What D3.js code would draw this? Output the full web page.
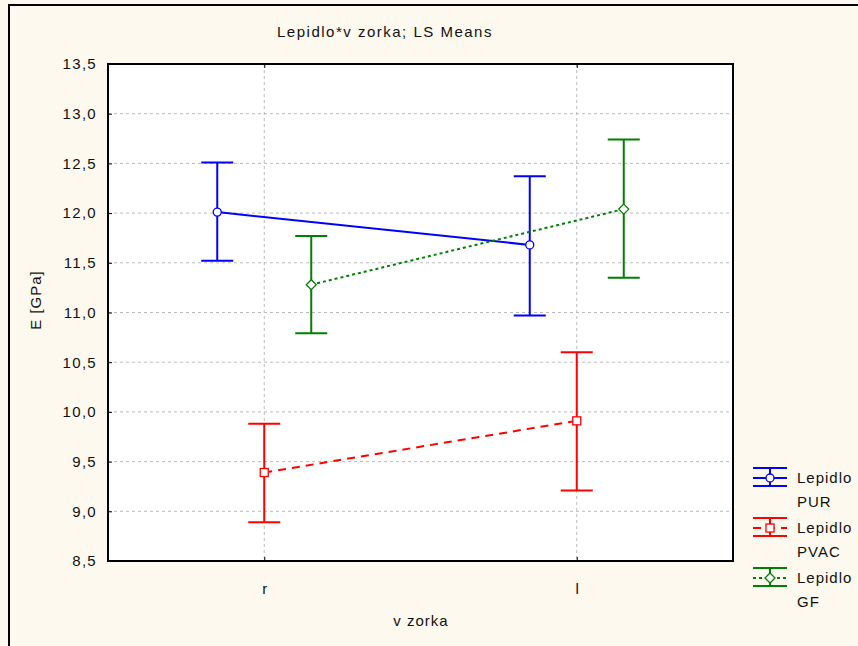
<!DOCTYPE html>
<html>
<head>
<meta charset="utf-8">
<script src="https://cdn.jsdelivr.net/npm/d3@7"></script>
<style>
  body { margin: 0; background: #fdf9ee; }
  text { font-family: "Liberation Sans", Arial, sans-serif; fill: #111; }
</style>
</head>
<body>
<svg id="chart" width="858" height="646"></svg>
<script>
// categories and series
const categories = ['r', 'l'];
const yTicks = [8.5, 9.0, 9.5, 10.0, 10.5, 11.0, 11.5, 12.0, 12.5, 13.0, 13.5];

const seriesNames = ['PUR', 'PVAC', 'GF'];
const seriesColors = ['#0000ff', '#ff0000', '#008000'];
const seriesMean = [[12.01, 11.68], [9.39, 9.91], [11.28, 12.04]];
const seriesLow = [[11.52, 10.97], [8.89, 9.21], [10.79, 11.35]];
const seriesHigh = [[12.51, 12.37], [9.88, 10.60], [11.77, 12.74]];

const margin = { top: 64, left: 108, right: 125, bottom: 85 };
const W = 858, H = 646;
const svg = d3.select('#chart');

// outer frame
svg.append('rect')
    .attr('x', 9).attr('y', 5)
    .attr('width', 900).attr('height', 700)
    .attr('fill', '#fdf9ee')
    .attr('stroke', '#000').attr('stroke-width', 2);

const plotW = W - margin.left - margin.right;
const plotH = H - margin.top - margin.bottom;

const x = d3.scalePoint().domain(categories).range([0, plotW]).padding(0.5);
const offset = d3.scalePoint().domain(seriesNames).range([-47, 47]);
const y = d3.scaleLinear().domain([8.5, 13.5]).range([plotH, 0]);

const g = svg.append('g').attr('transform', `translate(${margin.left},${margin.top})`);

g.append('rect').attr('width', plotW).attr('height', plotH).attr('fill', '#fff');

// grid
g.selectAll('.hgrid').data(yTicks.slice(1, -1)).enter().append('line')
    .attr('x1', 0).attr('x2', plotW)
    .attr('y1', d => y(d)).attr('y2', d => y(d))
    .attr('stroke', '#bbb').attr('stroke-dasharray', '3,3');
g.selectAll('.vgrid').data(categories).enter().append('line')
    .attr('x1', d => x(d)).attr('x2', d => x(d))
    .attr('y1', 0).attr('y2', plotH)
    .attr('stroke', '#bbb').attr('stroke-dasharray', '3,3');

// axes
const yAxis = g.append('g')
    .call(d3.axisLeft(y).tickValues(yTicks).tickSize(-4).tickPadding(11)
        .tickFormat(d => d3.format('.1f')(d).replace('.', ',')));
yAxis.select('.domain').remove();
yAxis.selectAll('text').style('font-size', '15px').style('letter-spacing', '1.3px').attr('fill', '#111');

const xAxis = g.append('g').attr('transform', `translate(0,${plotH})`)
    .call(d3.axisBottom(x).tickSize(-4).tickPadding(22));
xAxis.select('.domain').remove();
xAxis.selectAll('text').style('font-size', '15px').attr('fill', '#111');

const xTop = g.append('g').call(d3.axisTop(x).tickSize(-4).tickFormat(''));
xTop.select('.domain').remove();

g.append('rect').attr('width', plotW).attr('height', plotH)
    .attr('fill', 'none').attr('stroke', '#000').attr('stroke-width', 2);

const dashes = [null, '8,6', '3,3'];
const capHalf = 16;

seriesNames.forEach((name, si) => {
    const color = seriesColors[si];
    const pts = categories.map((c, ci) => ({
        cx: x(c) + offset(name),
        mean: seriesMean[si][ci],
        lo: seriesLow[si][ci],
        hi: seriesHigh[si][ci]
    }));

    // whiskers
    pts.forEach(p => {
        g.append('line').attr('x1', p.cx).attr('x2', p.cx)
            .attr('y1', y(p.lo)).attr('y2', y(p.hi))
            .attr('stroke', color).attr('stroke-width', 2);
        [p.lo, p.hi].forEach(v => {
            g.append('line').attr('x1', p.cx - capHalf).attr('x2', p.cx + capHalf)
                .attr('y1', y(v)).attr('y2', y(v))
                .attr('stroke', color).attr('stroke-width', 2);
        });
    });

    // mean line
    g.append('path')
        .datum(pts)
        .attr('d', d3.line().x(p => p.cx).y(p => y(p.mean)))
        .attr('fill', 'none').attr('stroke', color).attr('stroke-width', 2)
        .attr('stroke-dasharray', dashes[si]);

    // markers
    pts.forEach(p => drawMarker(g, si, p.cx, y(p.mean), color));
});

function drawMarker(sel, si, cx, cy, color) {
    if (si === 0) {
        sel.append('circle').attr('cx', cx).attr('cy', cy).attr('r', 4)
            .attr('fill', '#fff').attr('stroke', color).attr('stroke-width', 1.3);
    } else if (si === 1) {
        sel.append('rect').attr('x', cx - 4).attr('y', cy - 4).attr('width', 8).attr('height', 8)
            .attr('fill', '#fff').attr('stroke', color).attr('stroke-width', 1.3);
    } else {
        sel.append('path').attr('d', `M${cx},${cy - 5}L${cx + 5},${cy}L${cx},${cy + 5}L${cx - 5},${cy}Z`)
            .attr('fill', '#fff').attr('stroke', color).attr('stroke-width', 1.3);
    }
}

// title and axis labels
svg.append('text').attr('x', 385).attr('y', 37).attr('text-anchor', 'middle')
    .style('font-size', '15px').style('letter-spacing', '1.5px').text('Lepidlo*v zorka; LS Means');
svg.append('text').attr('x', 421).attr('y', 626).attr('text-anchor', 'middle')
    .style('font-size', '15px').style('letter-spacing', '1px').text('v zorka');
svg.append('text').attr('transform', 'translate(41,300) rotate(-90)').attr('text-anchor', 'middle')
    .style('font-size', '15px').style('letter-spacing', '1px').text('E [GPa]');

// legend
const legend = svg.append('g');
seriesNames.forEach((name, si) => {
    const color = seriesColors[si];
    const cy = 478 + si * 50;
    const x0 = 753, x1 = 787, mx = 770;
    legend.append('line').attr('x1', x0).attr('x2', x1).attr('y1', cy - 10).attr('y2', cy - 10)
        .attr('stroke', color).attr('stroke-width', 2);
    legend.append('line').attr('x1', x0).attr('x2', x1).attr('y1', cy + 8).attr('y2', cy + 8)
        .attr('stroke', color).attr('stroke-width', 2);
    legend.append('line').attr('x1', mx).attr('x2', mx).attr('y1', cy - 10).attr('y2', cy + 8)
        .attr('stroke', color).attr('stroke-width', 2);
    legend.append('line').attr('x1', x0).attr('x2', x1).attr('y1', cy).attr('y2', cy)
        .attr('stroke', color).attr('stroke-width', 2).attr('stroke-dasharray', dashes[si]);
    drawMarker(legend, si, mx, cy, color);
    legend.append('text').attr('x', 797).attr('y', cy + 5)
        .style('font-size', '15px').style('letter-spacing', '1px').text('Lepidlo');
    legend.append('text').attr('x', 797).attr('y', cy + 29)
        .style('font-size', '15px').style('letter-spacing', '1px').text(name);
});
</script>
</body>
</html>
